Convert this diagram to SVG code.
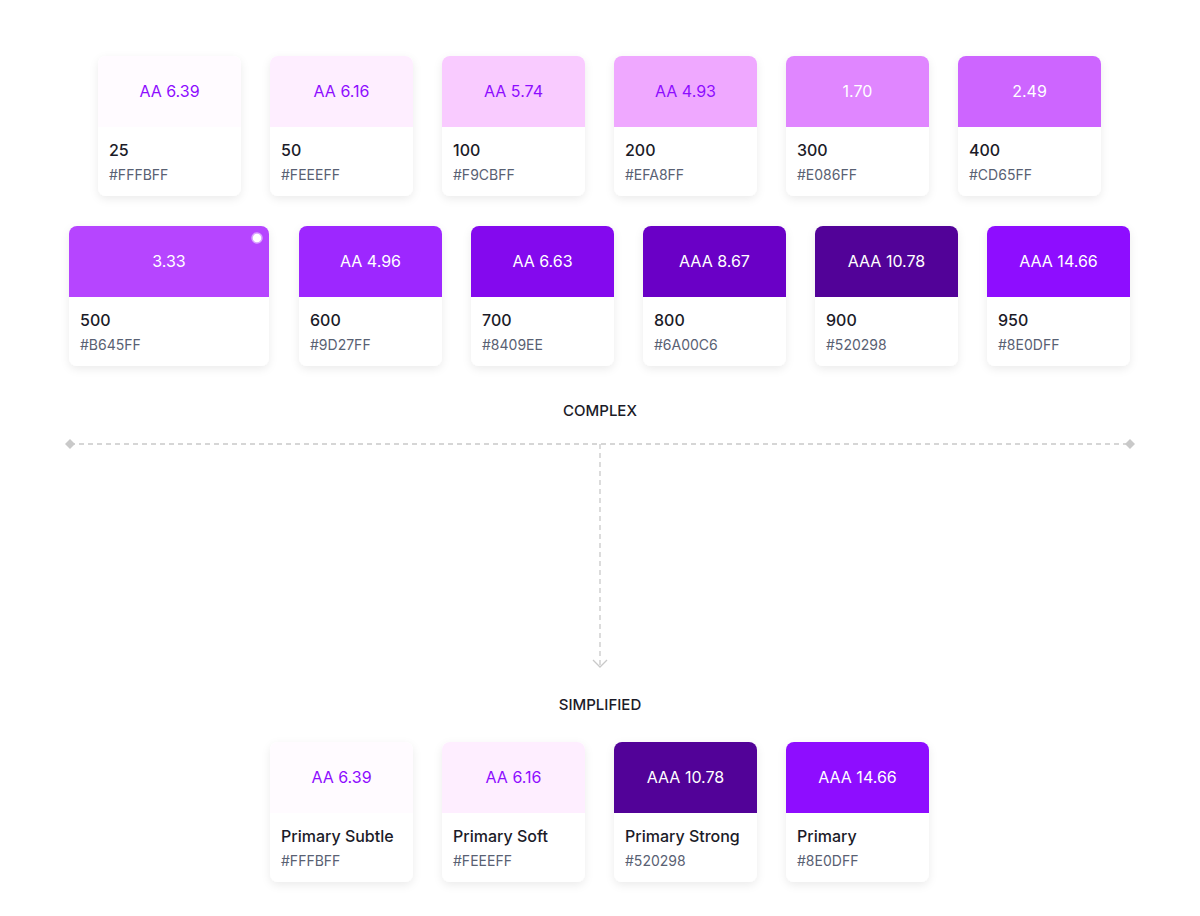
<svg xmlns="http://www.w3.org/2000/svg" width="1200" height="916" viewBox="0 0 1200 916">
<style>
.card{fill:#fff;filter:url(#sh)}
.b{font-family:Inter,"Liberation Sans",sans-serif;font-size:16px;text-anchor:middle}
.n{font-family:Inter,"Liberation Sans",sans-serif;font-size:16px;font-weight:500;fill:#1b1b28}
.h{font-family:Inter,"Liberation Sans",sans-serif;font-size:14px;fill:#596173}
.lt{fill:#8E0DFF}.wt{fill:#fff}
.sec{font-family:Inter,"Liberation Sans",sans-serif;font-size:15px;font-weight:500;fill:#1b1b28;text-anchor:middle}
.c{stroke:#c9c9c9;stroke-width:1.3;stroke-dasharray:5 4;fill:none}
</style>
<defs>
<filter id="sh" x="-20%" y="-20%" width="140%" height="150%"><feDropShadow dx="0" dy="3" stdDeviation="4" flood-color="#000" flood-opacity="0.08"/></filter>
</defs>
<rect width="1200" height="916" fill="#fff"/>
<g id="row1">
<g id="c25"><rect class="card" x="98" y="56" width="143" height="140" rx="8"/><path d="M98 127V64a8 8 0 0 1 8-8h127a8 8 0 0 1 8 8v63z" fill="#FFFBFF"/><text class="b lt" x="169.5" y="97">AA 6.39</text><text class="n" x="109" y="156">25</text><text class="h" x="109" y="180">#FFFBFF</text></g>
<g id="c50"><rect class="card" x="270" y="56" width="143" height="140" rx="8"/><path d="M270 127V64a8 8 0 0 1 8-8h127a8 8 0 0 1 8 8v63z" fill="#FEEEFF"/><text class="b lt" x="341.5" y="97">AA 6.16</text><text class="n" x="281" y="156">50</text><text class="h" x="281" y="180">#FEEEFF</text></g>
<g id="c100"><rect class="card" x="442" y="56" width="143" height="140" rx="8"/><path d="M442 127V64a8 8 0 0 1 8-8h127a8 8 0 0 1 8 8v63z" fill="#F9CBFF"/><text class="b lt" x="513.5" y="97">AA 5.74</text><text class="n" x="453" y="156">100</text><text class="h" x="453" y="180">#F9CBFF</text></g>
<g id="c200"><rect class="card" x="614" y="56" width="143" height="140" rx="8"/><path d="M614 127V64a8 8 0 0 1 8-8h127a8 8 0 0 1 8 8v63z" fill="#EFA8FF"/><text class="b lt" x="685.5" y="97">AA 4.93</text><text class="n" x="625" y="156">200</text><text class="h" x="625" y="180">#EFA8FF</text></g>
<g id="c300"><rect class="card" x="786" y="56" width="143" height="140" rx="8"/><path d="M786 127V64a8 8 0 0 1 8-8h127a8 8 0 0 1 8 8v63z" fill="#E086FF"/><text class="b wt" x="857.5" y="97">1.70</text><text class="n" x="797" y="156">300</text><text class="h" x="797" y="180">#E086FF</text></g>
<g id="c400"><rect class="card" x="958" y="56" width="143" height="140" rx="8"/><path d="M958 127V64a8 8 0 0 1 8-8h127a8 8 0 0 1 8 8v63z" fill="#CD65FF"/><text class="b wt" x="1029.5" y="97">2.49</text><text class="n" x="969" y="156">400</text><text class="h" x="969" y="180">#CD65FF</text></g>
</g>
<g id="row2">
<g id="c500"><rect class="card" x="69" y="226" width="200" height="140" rx="8"/><path d="M69 297V234a8 8 0 0 1 8-8h184a8 8 0 0 1 8 8v63z" fill="#B645FF"/><circle cx="257" cy="238" r="5" fill="#fff" stroke="#d9a3ff" stroke-width="1.5"/><text class="b wt" x="169" y="267">3.33</text><text class="n" x="80" y="326">500</text><text class="h" x="80" y="350">#B645FF</text></g>
<g id="c600"><rect class="card" x="299" y="226" width="143" height="140" rx="8"/><path d="M299 297V234a8 8 0 0 1 8-8h127a8 8 0 0 1 8 8v63z" fill="#9D27FF"/><text class="b wt" x="370.5" y="267">AA 4.96</text><text class="n" x="310" y="326">600</text><text class="h" x="310" y="350">#9D27FF</text></g>
<g id="c700"><rect class="card" x="471" y="226" width="143" height="140" rx="8"/><path d="M471 297V234a8 8 0 0 1 8-8h127a8 8 0 0 1 8 8v63z" fill="#8409EE"/><text class="b wt" x="542.5" y="267">AA 6.63</text><text class="n" x="482" y="326">700</text><text class="h" x="482" y="350">#8409EE</text></g>
<g id="c800"><rect class="card" x="643" y="226" width="143" height="140" rx="8"/><path d="M643 297V234a8 8 0 0 1 8-8h127a8 8 0 0 1 8 8v63z" fill="#6A00C6"/><text class="b wt" x="714.5" y="267">AAA 8.67</text><text class="n" x="654" y="326">800</text><text class="h" x="654" y="350">#6A00C6</text></g>
<g id="c900"><rect class="card" x="815" y="226" width="143" height="140" rx="8"/><path d="M815 297V234a8 8 0 0 1 8-8h127a8 8 0 0 1 8 8v63z" fill="#520298"/><text class="b wt" x="886.5" y="267">AAA 10.78</text><text class="n" x="826" y="326">900</text><text class="h" x="826" y="350">#520298</text></g>
<g id="c950"><rect class="card" x="987" y="226" width="143" height="140" rx="8"/><path d="M987 297V234a8 8 0 0 1 8-8h127a8 8 0 0 1 8 8v63z" fill="#8E0DFF"/><text class="b wt" x="1058.5" y="267">AAA 14.66</text><text class="n" x="998" y="326">950</text><text class="h" x="998" y="350">#8E0DFF</text></g>
</g>
<text class="sec" x="600" y="416">COMPLEX</text>
<g id="connectors">
<path class="c" d="M70 444H1130M600 444V666"/>
<path d="M70 439l5 5-5 5-5-5z" fill="#c9c9c9"/>
<path d="M1130 439l5 5-5 5-5-5z" fill="#c9c9c9"/>
<path d="M593 660l7 7 7-7" fill="none" stroke="#c9c9c9" stroke-width="1.3"/>
</g>
<text class="sec" x="600" y="710">SIMPLIFIED</text>
<g id="row3">
<g id="s1"><rect class="card" x="270" y="742" width="143" height="140" rx="8"/><path d="M270 813V750a8 8 0 0 1 8-8h127a8 8 0 0 1 8 8v63z" fill="#FFFBFF"/><text class="b lt" x="341.5" y="783">AA 6.39</text><text class="n" x="281" y="842">Primary Subtle</text><text class="h" x="281" y="866">#FFFBFF</text></g>
<g id="s2"><rect class="card" x="442" y="742" width="143" height="140" rx="8"/><path d="M442 813V750a8 8 0 0 1 8-8h127a8 8 0 0 1 8 8v63z" fill="#FEEEFF"/><text class="b lt" x="513.5" y="783">AA 6.16</text><text class="n" x="453" y="842">Primary Soft</text><text class="h" x="453" y="866">#FEEEFF</text></g>
<g id="s3"><rect class="card" x="614" y="742" width="143" height="140" rx="8"/><path d="M614 813V750a8 8 0 0 1 8-8h127a8 8 0 0 1 8 8v63z" fill="#520298"/><text class="b wt" x="685.5" y="783">AAA 10.78</text><text class="n" x="625" y="842">Primary Strong</text><text class="h" x="625" y="866">#520298</text></g>
<g id="s4"><rect class="card" x="786" y="742" width="143" height="140" rx="8"/><path d="M786 813V750a8 8 0 0 1 8-8h127a8 8 0 0 1 8 8v63z" fill="#8E0DFF"/><text class="b wt" x="857.5" y="783">AAA 14.66</text><text class="n" x="797" y="842">Primary</text><text class="h" x="797" y="866">#8E0DFF</text></g>
</g>
</svg>
